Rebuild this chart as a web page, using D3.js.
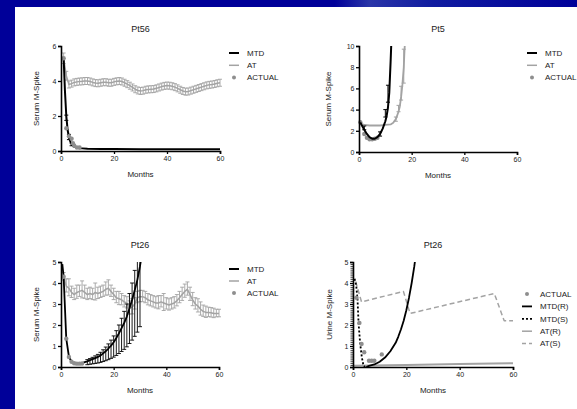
<!DOCTYPE html>
<html><head><meta charset="utf-8">
<script src="https://cdn.jsdelivr.net/npm/d3@7"></script>
<style>body{margin:0;background:#000099}svg{display:block}</style>
</head><body><svg id="c" width="577" height="409"></svg>
<script>
// ---------------- DATA ----------------
const xTicks = [0, 20, 40, 60];
const titles = ["Pt56", "Pt5", "Pt26", "Pt26"];
const yLabels = ["Serum M-Spike", "Serum M-Spike", "Serum M-Spike", "Urine M-Spike"];
const xLabel = "Months";

// Pt56
const pt56YTicks = [0, 2, 4, 6];
const pt56MtdX = [1, 1.5, 2, 2.5, 3, 3.5, 4, 5, 6, 7, 8, 10, 15, 20, 30, 40, 50, 60];
const pt56MtdY = [5.3, 3.4, 2.0, 1.2, 0.8, 0.55, 0.38, 0.24, 0.19, 0.16, 0.15, 0.13, 0.12, 0.11, 0.1, 0.1, 0.1, 0.1];
const pt56MtdErrX = [2, 3, 4];
const pt56MtdErrLo = [1.75, 0.65, 0.3];
const pt56MtdErrHi = [2.05, 0.95, 0.45];
const pt56AtX = [1,2,3,4,5,6,7,8,9,10,11,12,13,14,15,16,17,18,19,20,21,22,23,24,25,26,27,28,29,30,31,32,33,34,35,36,37,38,39,40,41,42,43,44,45,46,47,48,49,50,51,52,53,54,55,56,57,58,59,60];
const pt56AtY = [5.3,4.3,3.8,3.85,3.92,3.95,3.97,3.98,4.0,4.0,3.97,3.92,3.88,3.87,3.9,3.93,3.93,3.9,3.9,3.95,3.98,4.0,3.97,3.9,3.82,3.73,3.63,3.53,3.46,3.43,3.45,3.5,3.52,3.53,3.54,3.58,3.63,3.68,3.72,3.74,3.73,3.7,3.65,3.58,3.5,3.43,3.39,3.4,3.45,3.5,3.55,3.6,3.65,3.7,3.75,3.78,3.8,3.83,3.87,3.9];
const pt56AtErr = [0.3,0.25,0.2,0.2,0.2,0.2,0.2,0.2,0.2,0.2,0.2,0.2,0.2,0.2,0.2,0.2,0.2,0.2,0.2,0.2,0.2,0.2,0.2,0.2,0.2,0.2,0.2,0.2,0.2,0.2,0.2,0.2,0.2,0.2,0.2,0.2,0.2,0.2,0.2,0.2,0.2,0.2,0.2,0.2,0.2,0.2,0.2,0.2,0.2,0.2,0.2,0.2,0.2,0.2,0.2,0.2,0.2,0.2,0.2,0.2];
const pt56ActX = [1, 2, 3, 4, 4.5, 5, 6, 7];
const pt56ActY = [5.3, 1.3, 0.85, 0.7, 0.45, 0.3, 0.2, 0.2];

// Pt5
const pt5YTicks = [0, 2, 4, 6, 8, 10];
const pt5MtdX = [0.5, 1, 2, 3, 4, 5, 6, 7, 8, 9, 10, 10.5, 11, 11.5, 12, 12.3];
const pt5MtdY = [2.8, 2.55, 2.1, 1.7, 1.4, 1.25, 1.25, 1.4, 1.7, 2.2, 2.9, 3.4, 4.2, 5.6, 8.5, 10.5];
const pt5MtdErrX = [2, 8, 10, 11];
const pt5MtdErrLo = [2.1, 1.5, 3.3, 4.7];
const pt5MtdErrHi = [2.45, 1.9, 4.0, 6.3];
const pt5AtX = [0.5, 1, 2, 4, 6, 8, 10, 12, 13, 14, 15, 15.5, 16, 16.5, 17, 17.3, 17.5];
const pt5AtY = [2.8, 2.65, 2.55, 2.5, 2.5, 2.5, 2.55, 2.6, 2.75, 3.1, 3.8, 4.3, 5.2, 6.4, 8.0, 9.7, 10.5];
const pt5AtErrX = [14, 15, 16, 17];
const pt5AtErrLo = [2.9, 3.8, 4.9, 6.5];
const pt5AtErrHi = [3.3, 4.4, 6.2, 9.7];
const pt5ActX = [0.5, 2, 3, 4, 5, 6, 7];
const pt5ActY = [2.8, 1.7, 1.35, 1.2, 1.2, 1.25, 1.35];

// Pt26 serum
const pt26YTicks = [0, 1, 2, 3, 4, 5];
const pt26MtdX = [0.5,1,2,3,4,5,6,7,8,9,10,11,12,13,14,15,16,17,18,19,20,21,22,23,24,25,26,27,28,29,30,30.5];
const pt26MtdY = [4.9,4.3,1.35,0.5,0.25,0.17,0.15,0.16,0.19,0.23,0.27,0.32,0.37,0.42,0.48,0.55,0.65,0.75,0.88,1.02,1.18,1.38,1.6,1.85,2.1,2.4,2.8,3.2,3.65,4.15,4.8,5.2];
const pt26MtdErrX = [10,11,12,13,14,15,16,17,18,19,20,21,22,23,24,25,26,27,28,29,30];
const pt26MtdErrLo = [0.11,0.13,0.15,0.17,0.19,0.22,0.26,0.3,0.35,0.41,0.47,0.55,0.64,0.74,0.84,0.96,1.12,1.28,1.46,1.66,1.92];
const pt26MtdErrHi = [0.35,0.4,0.46,0.53,0.6,0.7,0.82,0.95,1.1,1.28,1.48,1.73,2.0,2.32,2.65,3.0,3.5,4.0,4.6,5.2,6.0];
const pt26AtX = [1,2,3,4,5,6,7,8,9,10,11,12,13,14,15,16,17,18,19,20,21,22,23,24,25,26,27,28,29,30,31,32,33,34,35,36,37,38,39,40,41,42,43,44,45,46,47,48,49,50,51,52,53,54,55,56,57,58,59,60];
const pt26AtY = [4.3,3.85,3.75,3.55,3.45,3.55,3.6,3.65,3.55,3.45,3.5,3.45,3.55,3.5,3.55,3.6,3.7,3.75,3.6,3.45,3.3,3.25,3.2,3.1,3.05,2.8,2.85,3.0,3.3,3.35,3.35,3.3,3.2,3.15,3.1,3.05,3.05,3.1,3.05,3.0,2.95,3.0,3.05,3.15,3.3,3.45,3.6,3.7,3.45,3.2,3.0,2.9,2.75,2.65,2.6,2.6,2.58,2.55,2.55,2.55];
const pt26AtErr = [0.2,0.35,0.45,0.3,0.3,0.35,0.3,0.45,0.35,0.3,0.3,0.3,0.45,0.3,0.3,0.3,0.35,0.4,0.3,0.3,0.3,0.35,0.3,0.3,0.3,0.35,0.4,0.3,0.3,0.3,0.3,0.3,0.3,0.3,0.3,0.3,0.35,0.3,0.45,0.3,0.3,0.3,0.3,0.3,0.3,0.35,0.35,0.35,0.35,0.35,0.3,0.35,0.35,0.3,0.3,0.25,0.25,0.25,0.2,0.2];
const pt26ActX = [1, 2, 3, 4, 5, 6, 7, 8];
const pt26ActY = [4.3, 1.35, 0.48, 0.25, 0.18, 0.16, 0.16, 0.17];

// Pt26 urine
const urYTicks = [0, 1, 2, 3, 4, 5];
const urMinorTicks = d3.range(0, 50.5).map(i => i / 10);
const urMtdRX = [5, 6, 8, 10, 12, 14, 16, 17, 18, 19, 20, 21, 22, 23, 23.3];
const urMtdRY = [0.0, 0.05, 0.12, 0.25, 0.45, 0.75, 1.15, 1.45, 1.8, 2.2, 2.7, 3.3, 4.0, 4.8, 5.1];
const urMtdSX = [0.6, 1.2, 1.7, 2.1, 2.7, 3.3, 3.9, 4.5];
const urMtdSY = [4.2, 3.9, 3.2, 2.05, 1.1, 0.48, 0.08, 0.0];
const urAtRX = [0, 20, 40, 60];
const urAtRY = [0.06, 0.1, 0.14, 0.18];
const urAtSX = [1, 3.2, 18.9, 21.4, 53, 56.7, 60];
const urAtSY = [4.07, 3.1, 3.6, 2.55, 3.5, 2.2, 2.2];
const urActX = [1.3, 2.4, 3.2, 4.2, 6, 7, 8, 10.8];
const urActY = [3.3, 2.1, 1.1, 0.7, 0.3, 0.3, 0.3, 0.6];

// ---------------- DRAW ----------------
const svg = d3.select("#c");
const FONT = "'Liberation Sans', Arial, Helvetica, sans-serif";
const GRAY = "#a3a3a3", DOT = "#8e8e8e";

const defs = svg.append("defs");
const g0 = defs.append("linearGradient").attr("id","bg").attr("x1","0").attr("x2","1").attr("y1","0").attr("y2","0");
g0.append("stop").attr("offset","0").attr("stop-color","#000099");
g0.append("stop").attr("offset","0.58").attr("stop-color","#000099");
g0.append("stop").attr("offset","0.64").attr("stop-color","#2a35a8");
g0.append("stop").attr("offset","0.75").attr("stop-color","#101ca0");
g0.append("stop").attr("offset","1").attr("stop-color","#000099");
svg.append("rect").attr("width",577).attr("height",409).attr("fill","url(#bg)");
svg.append("rect").attr("x",15).attr("y",7).attr("width",562).attr("height",402).attr("fill","#fff");

function pts(xs, ys){ return xs.map((x,i)=>[x, ys[i]]); }

function panel(o){
  const x = d3.scaleLinear().domain([0,60]).range([o.x0,o.x1]);
  const y = d3.scaleLinear().domain([0,o.ymax]).range([o.y0,o.y1]);
  const g = svg.append("g");
  const cid = "clip"+o.id;
  defs.append("clipPath").attr("id",cid).append("rect")
    .attr("x",o.x0-2).attr("y",o.y1).attr("width",o.x1-o.x0+4).attr("height",o.y0-o.y1+1);
  const plot = g.append("g").attr("clip-path",`url(#${cid})`);
  o.draw(plot, x, y);
  // axes
  const ya = d3.axisLeft(y).tickValues(o.yticks).tickSize(3).tickPadding(1.5).tickFormat(d3.format("d"));
  const xa = d3.axisBottom(x).tickValues(xTicks).tickSize(3).tickPadding(2);
  const gy = g.append("g").attr("transform",`translate(${o.x0},0)`).call(ya);
  const gx = g.append("g").attr("transform",`translate(0,${o.y0})`).call(xa);
  if (o.minor){
    g.append("g").attr("transform",`translate(${o.x0},0)`)
      .call(d3.axisLeft(y).tickValues(o.minor).tickSize(2.5).tickFormat(""))
      .call(s=>s.select(".domain").remove())
      .selectAll("line").attr("stroke-width",0.8);
  }
  [gx,gy].forEach(a=>{
    a.select(".domain").attr("stroke-width",1.6).attr("stroke","#000");
    a.selectAll(".tick line").attr("stroke-width",1.3);
    a.selectAll("text").attr("font-family",FONT).attr("font-size",7).attr("fill","#222");
  });
  g.append("text").attr("x",(o.x0+o.x1)/2).attr("y",o.y1-14).attr("text-anchor","middle")
    .attr("font-family",FONT).attr("font-size",9).attr("fill","#222").text(o.title);
  g.append("text").attr("x",(o.x0+o.x1)/2).attr("y",o.y0+26).attr("text-anchor","middle")
    .attr("font-family",FONT).attr("font-size",8).attr("fill","#222").text(xLabel);
  g.append("text").attr("transform",`translate(${o.ylx},${(o.y0+o.y1)/2}) rotate(-90)`)
    .attr("text-anchor","middle").attr("font-family",FONT).attr("font-size",8).attr("fill","#222").text(o.ylabel);
  // legend
  const lg = g.append("g");
  o.legend.forEach((it,i)=>{
    const yy = o.ly + i*o.lstep;
    if (it.type==="dot"){
      lg.append("circle").attr("cx",o.lx+5).attr("cy",yy).attr("r",2).attr("fill",DOT);
    } else {
      lg.append("line").attr("x1",o.lx).attr("x2",o.lx+10).attr("y1",yy).attr("y2",yy)
        .attr("stroke",it.color).attr("stroke-width",it.w).attr("stroke-dasharray",it.dash||null);
    }
    lg.append("text").attr("x",o.lx+18).attr("y",yy).attr("dy","0.35em")
      .attr("font-family",FONT).attr("font-size",8).attr("fill","#222").text(it.label);
  });
}

function line(p, x, y, data, color, w, dash){
  p.append("path").datum(data).attr("fill","none").attr("stroke",color).attr("stroke-width",w)
    .attr("stroke-dasharray",dash||null).attr("stroke-linejoin","round")
    .attr("d", d3.line().x(d=>x(d[0])).y(d=>y(d[1])));
}
function errs(p, x, y, xs, lo, hi, color, w){
  xs.forEach((xv,i)=>{
    const xx = x(xv);
    p.append("line").attr("x1",xx).attr("x2",xx).attr("y1",y(lo[i])).attr("y2",y(hi[i]))
      .attr("stroke",color).attr("stroke-width",w);
    [lo[i],hi[i]].forEach(v=>p.append("line").attr("x1",xx-2).attr("x2",xx+2)
      .attr("y1",y(v)).attr("y2",y(v)).attr("stroke",color).attr("stroke-width",w));
  });
}
function dots(p, x, y, xs, ys){
  p.selectAll(null).data(pts(xs,ys)).enter().append("circle")
    .attr("cx",d=>x(d[0])).attr("cy",d=>y(d[1])).attr("r",2.2).attr("fill",DOT);
}

const std3 = [
  {label:"MTD", color:"#000", w:2},
  {label:"AT", color:GRAY, w:1.5},
  {label:"ACTUAL", type:"dot"}
];

panel({id:1, x0:61, x1:220, y0:151, y1:46, ymax:6, yticks:pt56YTicks, title:titles[0], ylabel:yLabels[0], ylx:39,
  lx:229, ly:53, lstep:12.3, legend:std3,
  draw:(p,x,y)=>{
    errs(p,x,y,pt56AtX, pt56AtY.map((v,i)=>v-pt56AtErr[i]), pt56AtY.map((v,i)=>v+pt56AtErr[i]), GRAY, 0.9);
    line(p,x,y,pts(pt56AtX,pt56AtY),GRAY,1.5);
    line(p,x,y,pts(pt56MtdX,pt56MtdY),"#000",2);
    errs(p,x,y,pt56MtdErrX,pt56MtdErrLo,pt56MtdErrHi,"#000",1);
    dots(p,x,y,pt56ActX,pt56ActY);
  }});

panel({id:2, x0:359, x1:517, y0:152, y1:46, ymax:10, yticks:pt5YTicks, title:titles[1], ylabel:yLabels[1], ylx:331,
  lx:527, ly:53, lstep:12.3, legend:std3,
  draw:(p,x,y)=>{
    dots(p,x,y,pt5ActX,pt5ActY);
    line(p,x,y,pts(pt5AtX,pt5AtY),GRAY,1.8);
    errs(p,x,y,pt5AtErrX,pt5AtErrLo,pt5AtErrHi,GRAY,1);
    line(p,x,y,pts(pt5MtdX,pt5MtdY),"#000",2);
    errs(p,x,y,pt5MtdErrX,pt5MtdErrLo,pt5MtdErrHi,"#000",1);
  }});

panel({id:3, x0:61, x1:219, y0:367, y1:262, ymax:5, yticks:pt26YTicks, title:titles[2], ylabel:yLabels[2], ylx:39,
  lx:229, ly:269, lstep:12, legend:std3,
  draw:(p,x,y)=>{
    errs(p,x,y,pt26AtX, pt26AtY.map((v,i)=>v-pt26AtErr[i]*0.8), pt26AtY.map((v,i)=>v+pt26AtErr[i]), GRAY, 0.9);
    line(p,x,y,pts(pt26AtX,pt26AtY),GRAY,1.5);
    errs(p,x,y,pt26MtdErrX,pt26MtdErrLo,pt26MtdErrHi,"#000",0.9);
    line(p,x,y,pts(pt26MtdX,pt26MtdY),"#000",1.8);
    dots(p,x,y,pt26ActX,pt26ActY);
  }});

panel({id:4, x0:353, x1:513, y0:367, y1:262, ymax:5, yticks:urYTicks, minor:urMinorTicks, title:titles[3], ylabel:yLabels[3], ylx:332,
  lx:522, ly:294, lstep:12.4,
  legend:[
    {label:"ACTUAL", type:"dot"},
    {label:"MTD(R)", color:"#000", w:1.8},
    {label:"MTD(S)", color:"#000", w:1.8, dash:"2,2"},
    {label:"AT(R)", color:GRAY, w:1.5},
    {label:"AT(S)", color:GRAY, w:1.5, dash:"4,3"}
  ],
  draw:(p,x,y)=>{
    line(p,x,y,pts(urAtRX,urAtRY),GRAY,2);
    line(p,x,y,pts(urAtSX,urAtSY),GRAY,1.5,"5,3");
    line(p,x,y,pts(urMtdSX,urMtdSY),"#000",1.8,"2,2");
    line(p,x,y,pts(urMtdRX,urMtdRY),"#000",1.8);
    dots(p,x,y,urActX,urActY);
  }});
</script></body></html>
